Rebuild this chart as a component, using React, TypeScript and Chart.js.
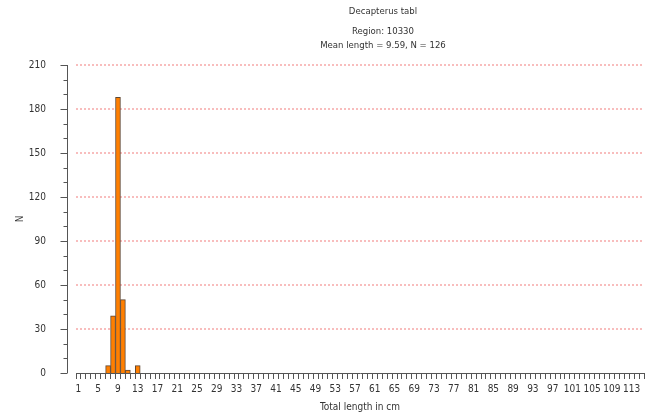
import React, { useEffect, useRef } from "react";
import { Chart, registerables } from "chart.js";

Chart.register(...registerables);

const titleLines = ["Decapterus tabl", "Region: 10330", "Mean length = 9.59, N = 126"];
const xAxisTitle = "Total length in cm";
const yAxisTitle = "N";
const lengthClasses: string[] = Array.from({ length: 115 }, (_, i) => String(i + 1));
const binLengths = [7, 8, 9, 10, 11, 13];
const binCounts = [5, 39, 188, 50, 2, 5];
const yMax = 210;
const yMajorStep = 30;
const yMinorStep = 10;

const counts = lengthClasses.map((c) => {
  const idx = binLengths.indexOf(Number(c));
  return idx >= 0 ? binCounts[idx] : 0;
});

const FONT = "'DejaVu Sans Condensed', 'Liberation Sans', sans-serif";
const AXIS = "#555";
const GRID_RED = "rgba(238,80,80,0.75)";

const decorPlugin = {
  id: "decor",
  beforeDatasetsDraw(chart: any) {
    const { ctx, chartArea } = chart;
    const y = chart.scales.y;
    ctx.save();
    ctx.strokeStyle = GRID_RED;
    ctx.lineWidth = 1.2;
    ctx.setLineDash([2, 2]);
    ctx.beginPath();
    for (let v = yMajorStep; v <= yMax; v += yMajorStep) {
      const py = Math.round(y.getPixelForValue(v));
      ctx.moveTo(chartArea.left, py);
      ctx.lineTo(chartArea.right, py);
    }
    ctx.stroke();
    ctx.restore();
  },
  afterDraw(chart: any) {
    const { ctx, chartArea } = chart;
    const y = chart.scales.y;
    const axisX = chartArea.left - 9;
    ctx.save();
    ctx.strokeStyle = AXIS;
    ctx.lineWidth = 1;
    ctx.beginPath();
    ctx.moveTo(axisX + 0.5, y.getPixelForValue(0));
    ctx.lineTo(axisX + 0.5, y.getPixelForValue(yMax));
    for (let v = 0; v <= yMax; v += yMinorStep) {
      const py = Math.round(y.getPixelForValue(v)) + 0.5;
      const len = v % yMajorStep === 0 ? 7 : 4;
      ctx.moveTo(axisX + 0.5 - len, py);
      ctx.lineTo(axisX + 0.5, py);
    }
    ctx.stroke();

    ctx.fillStyle = "#333";
    ctx.textAlign = "center";
    ctx.textBaseline = "middle";
    ctx.font = `9.5px ${FONT}`;
    const cx = (chartArea.left + chartArea.right) / 2;
    ctx.fillText(titleLines[0], cx + 23, 12);
    ctx.fillText(titleLines[1], cx + 23, 32);
    ctx.fillText(titleLines[2], cx + 23, 46);
    ctx.font = `10px ${FONT}`;
    ctx.fillText(xAxisTitle, cx, 407);
    ctx.save();
    ctx.translate(20, (chartArea.top + chartArea.bottom) / 2);
    ctx.rotate(-Math.PI / 2);
    ctx.fillText(yAxisTitle, 0, 0);
    ctx.restore();
    ctx.restore();
  },
};

export default function App() {
  const ref = useRef<HTMLCanvasElement | null>(null);
  useEffect(() => {
    if (!ref.current) return;
    const chart = new Chart(ref.current, {
      type: "bar",
      data: {
        labels: lengthClasses,
        datasets: [
          {
            data: counts,
            backgroundColor: "#ff7f00",
            borderColor: "#5e4632",
            borderWidth: 1,
            barPercentage: 1,
            categoryPercentage: 1,
          },
        ],
      },
      options: {
        animation: false,
        responsive: false,
        maintainAspectRatio: false,
        layout: { padding: { top: 65, right: 13, left: 0, bottom: 0 } },
        plugins: { legend: { display: false }, tooltip: { enabled: false }, title: { display: false } },
        scales: {
          x: {
            type: "category",
            offset: true,
            afterFit: (s: any) => {
              s.height = 46;
            },
            grid: {
              display: true,
              offset: true,
              drawOnChartArea: false,
              drawTicks: true,
              tickLength: 6,
              tickColor: AXIS,
            },
            border: { display: true, color: AXIS, width: 1 },
            ticks: {
              autoSkip: false,
              maxRotation: 0,
              minRotation: 0,
              padding: 4,
              color: "#333",
              font: { family: FONT, size: 10 },
              callback: (_v: any, i: number) => (i % 4 === 0 ? lengthClasses[i] : ""),
            },
          },
          y: {
            min: 0,
            max: yMax,
            afterFit: (s: any) => {
              s.width = 76;
            },
            grid: { display: false },
            border: { display: false },
            ticks: {
              stepSize: yMajorStep,
              padding: 22,
              color: "#333",
              font: { family: FONT, size: 10 },
            },
          },
        },
      },
      plugins: [decorPlugin],
    });
    return () => chart.destroy();
  }, []);
  return (
    <div style={{ position: "fixed", left: 0, top: 0, width: 657, height: 419, background: "#fff" }}>
      <canvas ref={ref} width={657} height={419} style={{ width: 657, height: 419 }} />
    </div>
  );
}
